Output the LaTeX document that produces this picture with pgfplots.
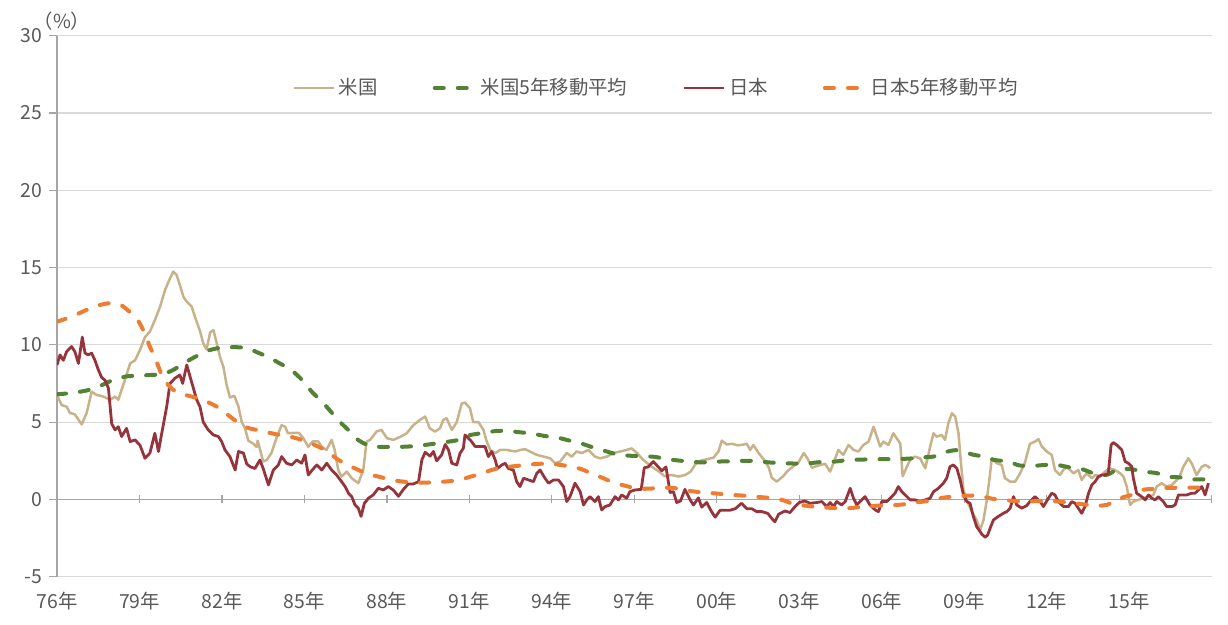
\documentclass[border=0pt]{standalone}
\usepackage{pgfplots}
\pgfplotsset{compat=1.18}
\usepackage{pgfplotstable}
\usepackage{fontspec}
\setmainfont{Noto Sans CJK JP}
\usetikzlibrary{calc}
\definecolor{ustan}{RGB}{200,178,138}
\definecolor{usma}{RGB}{84,130,53}
\definecolor{jpred}{RGB}{150,52,60}
\definecolor{jpma}{RGB}{237,125,49}
\definecolor{txt}{RGB}{89,89,89}
\definecolor{gridc}{RGB}{217,217,217}
\definecolor{axc}{RGB}{166,166,166}
\begin{document}
\pgfplotstableread{
x y
1976.00 6.76
1976.17 6.1
1976.35 6.0
1976.47 5.6
1976.65 5.5
1976.90 4.85
1977.08 5.6
1977.26 6.97
1977.44 6.76
1977.69 6.65
1977.93 6.45
1978.11 6.65
1978.23 6.45
1978.47 7.73
1978.66 8.8
1978.84 9.0
1979.02 9.67
1979.20 10.5
1979.38 10.86
1979.56 11.6
1979.75 12.47
1979.93 13.55
1980.11 14.3
1980.23 14.74
1980.35 14.52
1980.47 13.87
1980.60 13.1
1980.72 12.8
1980.90 12.47
1981.02 11.8
1981.20 10.9
1981.32 10.1
1981.44 9.7
1981.57 10.8
1981.69 10.96
1981.81 10.1
1981.93 9.2
1982.05 8.6
1982.17 7.4
1982.29 6.6
1982.45 6.7
1982.60 6.0
1982.72 5.0
1982.84 4.6
1982.96 3.8
1983.14 3.6
1983.26 3.4
1983.30 3.8
1983.50 2.45
1983.63 2.55
1983.80 3.0
1984.00 4.06
1984.17 4.8
1984.30 4.7
1984.40 4.28
1984.60 4.3
1984.80 4.3
1984.96 3.96
1985.14 3.4
1985.30 3.75
1985.50 3.75
1985.63 3.4
1985.80 3.2
1985.99 3.85
1986.10 3.2
1986.23 1.9
1986.35 1.48
1986.54 1.8
1986.72 1.37
1986.96 1.05
1987.14 1.9
1987.26 3.74
1987.39 3.85
1987.63 4.4
1987.80 4.5
1988.00 3.96
1988.23 3.85
1988.50 4.06
1988.72 4.28
1988.96 4.8
1989.20 5.14
1989.39 5.36
1989.56 4.6
1989.75 4.39
1989.93 4.6
1990.05 5.14
1990.17 5.25
1990.36 4.5
1990.54 5.0
1990.72 6.2
1990.84 6.26
1991.02 5.9
1991.14 5.0
1991.33 5.0
1991.51 4.5
1991.63 3.74
1991.76 3.2
1991.94 2.99
1992.12 3.2
1992.36 3.2
1992.67 3.1
1992.85 3.2
1993.03 3.25
1993.20 3.1
1993.45 2.88
1993.70 2.77
1993.94 2.66
1994.12 2.34
1994.30 2.45
1994.54 3.0
1994.72 2.77
1994.90 3.1
1995.09 3.0
1995.33 3.2
1995.57 2.77
1995.75 2.66
1996.00 2.77
1996.24 3.0
1996.48 3.1
1996.72 3.2
1996.90 3.3
1997.10 3.0
1997.30 2.6
1997.50 2.3
1997.63 2.12
1997.90 1.8
1998.10 1.5
1998.36 1.58
1998.60 1.48
1998.85 1.58
1999.05 1.8
1999.21 2.25
1999.40 2.5
1999.64 2.6
1999.88 2.7
2000.06 3.1
2000.18 3.8
2000.36 3.55
2000.55 3.6
2000.75 3.5
2000.97 3.55
2001.09 3.6
2001.21 3.2
2001.33 3.52
2001.52 3.0
2001.70 2.6
2001.88 2.1
2002.00 1.4
2002.18 1.15
2002.40 1.48
2002.58 1.85
2002.75 2.1
2002.97 2.4
2003.16 3.0
2003.30 2.65
2003.46 2.05
2003.70 2.2
2003.94 2.3
2004.12 1.8
2004.24 2.34
2004.42 3.2
2004.60 2.88
2004.79 3.52
2004.97 3.2
2005.15 3.1
2005.33 3.52
2005.52 3.74
2005.70 4.7
2005.82 4.06
2005.94 3.42
2006.06 3.74
2006.24 3.52
2006.42 4.28
2006.54 3.96
2006.67 3.63
2006.76 1.5
2006.91 2.1
2007.03 2.55
2007.21 2.77
2007.39 2.66
2007.58 2.01
2007.76 3.42
2007.88 4.28
2008.00 4.06
2008.18 4.17
2008.30 3.85
2008.42 4.92
2008.55 5.57
2008.67 5.36
2008.79 4.28
2008.88 2.34
2008.97 0.61
2009.09 -0.03
2009.27 -0.79
2009.45 -1.33
2009.58 -1.97
2009.70 -1.33
2009.82 -0.03
2009.94 1.69
2010.00 2.66
2010.18 2.34
2010.36 2.23
2010.48 1.37
2010.67 1.15
2010.85 1.15
2011.03 1.69
2011.20 2.34
2011.39 3.6
2011.57 3.74
2011.70 3.9
2011.82 3.42
2012.00 3.1
2012.18 2.88
2012.30 1.9
2012.48 1.58
2012.60 1.9
2012.73 2.12
2012.85 1.9
2012.97 1.69
2013.15 1.9
2013.27 1.26
2013.45 1.69
2013.64 1.37
2013.76 1.58
2013.94 1.48
2014.12 1.8
2014.30 2.01
2014.48 1.9
2014.67 1.69
2014.79 1.48
2014.91 0.83
2015.03 -0.36
2015.15 -0.14
2015.33 -0.03
2015.52 0.08
2015.70 0.18
2015.88 0.29
2016.00 0.83
2016.18 1.05
2016.36 0.83
2016.55 0.94
2016.73 1.26
2016.85 1.58
2016.97 2.12
2017.15 2.66
2017.27 2.34
2017.45 1.58
2017.64 2.12
2017.76 2.23
2017.88 2.12
2017.94 2.01
}\usdata
\pgfplotstableread{
x y
1976.0 6.8
1976.6 6.9
1977.2 7.1
1977.7 7.45
1978.0 7.7
1978.5 7.95
1978.9 8.0
1979.4 8.05
1979.8 8.1
1980.2 8.35
1980.6 8.8
1981.0 9.2
1981.45 9.6
1981.9 9.8
1982.3 9.85
1982.9 9.8
1983.3 9.5
1983.7 9.2
1984.1 8.8
1984.5 8.4
1984.9 7.75
1985.3 6.9
1985.6 6.4
1986.0 5.6
1986.3 5.0
1986.65 4.4
1986.95 3.85
1987.4 3.45
1987.9 3.4
1988.5 3.4
1989.0 3.45
1989.5 3.55
1990.1 3.7
1990.6 3.85
1991.0 4.15
1991.5 4.3
1992.0 4.43
1992.4 4.43
1992.8 4.35
1993.3 4.25
1993.75 4.1
1994.2 4.0
1994.65 3.8
1995.1 3.6
1995.6 3.3
1996.0 3.1
1996.4 2.9
1996.9 2.82
1997.3 2.8
1997.75 2.75
1998.2 2.6
1998.7 2.5
1999.1 2.42
1999.6 2.4
2000.1 2.45
2000.55 2.47
2001.0 2.5
2001.5 2.48
2001.85 2.4
2002.35 2.35
2002.85 2.32
2003.3 2.33
2003.8 2.42
2004.3 2.45
2004.75 2.55
2005.2 2.57
2005.65 2.6
2006.1 2.6
2006.6 2.62
2007.0 2.64
2007.45 2.72
2007.9 2.78
2008.4 3.1
2008.8 3.18
2009.3 2.9
2009.7 2.78
2010.1 2.55
2010.6 2.45
2011.0 2.2
2011.5 2.17
2011.95 2.23
2012.4 2.22
2012.9 2.05
2013.3 1.95
2013.8 1.62
2014.2 1.6
2014.6 1.95
2015.1 1.95
2015.5 1.8
2016.0 1.7
2016.4 1.47
2016.9 1.42
2017.3 1.3
2017.9 1.3
}\usmadata
\pgfplotstableread{
x y
1976.00 8.7
1976.11 9.35
1976.23 9.0
1976.35 9.56
1976.53 9.89
1976.65 9.56
1976.78 8.8
1976.92 10.5
1977.02 9.46
1977.14 9.35
1977.26 9.46
1977.38 9.0
1977.50 8.4
1977.62 7.9
1977.75 7.7
1977.87 7.2
1977.99 4.9
1978.11 4.5
1978.23 4.7
1978.35 4.07
1978.53 4.6
1978.66 3.74
1978.84 3.85
1979.02 3.5
1979.20 2.66
1979.38 3.0
1979.56 4.28
1979.69 3.1
1979.81 4.28
1979.99 6.0
1980.11 7.5
1980.29 7.84
1980.47 8.05
1980.57 7.5
1980.72 8.7
1980.84 7.94
1980.96 7.2
1981.08 6.44
1981.20 6.0
1981.32 5.0
1981.50 4.5
1981.69 4.17
1981.87 4.07
1981.99 3.74
1982.11 3.2
1982.29 2.77
1982.48 1.9
1982.60 3.1
1982.78 3.0
1982.90 2.3
1983.02 2.12
1983.20 2.0
1983.38 2.55
1983.50 2.0
1983.69 0.94
1983.87 1.9
1984.05 2.23
1984.17 2.77
1984.35 2.34
1984.54 2.23
1984.72 2.55
1984.90 2.34
1985.02 2.88
1985.14 1.58
1985.33 2.0
1985.45 2.23
1985.63 1.9
1985.81 2.34
1985.99 1.9
1986.17 1.58
1986.35 1.15
1986.48 0.83
1986.60 0.4
1986.72 0.18
1986.84 -0.36
1986.96 -0.57
1987.06 -1.1
1987.18 -0.25
1987.33 0.08
1987.50 0.29
1987.69 0.72
1987.87 0.61
1988.05 0.83
1988.23 0.61
1988.42 0.2
1988.60 0.65
1988.78 1.0
1988.96 1.0
1989.15 1.15
1989.27 2.55
1989.39 3.05
1989.57 2.8
1989.69 3.1
1989.81 2.5
1989.99 2.88
1990.12 3.55
1990.24 3.2
1990.36 2.34
1990.54 2.23
1990.66 2.99
1990.78 3.31
1990.84 4.17
1990.96 3.96
1991.08 3.74
1991.21 3.42
1991.39 3.42
1991.57 3.42
1991.69 2.77
1991.81 3.1
1991.94 2.55
1992.02 2.0
1992.18 2.23
1992.30 2.34
1992.42 2.0
1992.60 1.9
1992.72 1.15
1992.84 0.83
1992.97 1.37
1993.15 1.26
1993.33 1.15
1993.45 1.69
1993.57 1.9
1993.75 1.37
1993.88 1.05
1994.06 1.26
1994.24 1.26
1994.42 0.83
1994.54 -0.14
1994.66 0.18
1994.84 1.05
1995.03 0.5
1995.15 -0.36
1995.27 -0.03
1995.39 0.18
1995.57 -0.14
1995.69 0.18
1995.81 -0.68
1995.93 -0.47
1996.11 -0.36
1996.30 0.18
1996.42 -0.03
1996.54 0.29
1996.72 0.08
1996.84 0.5
1997.02 0.61
1997.25 0.65
1997.36 2.05
1997.50 2.1
1997.69 2.45
1997.82 2.2
1998.00 1.85
1998.15 2.1
1998.30 0.45
1998.42 0.5
1998.54 -0.2
1998.68 -0.1
1998.84 0.65
1999.02 0.0
1999.15 -0.36
1999.33 0.1
1999.45 -0.5
1999.63 -0.2
1999.81 -0.8
1999.94 -1.15
2000.12 -0.7
2000.30 -0.7
2000.48 -0.7
2000.67 -0.6
2000.90 -0.25
2001.09 -0.6
2001.27 -0.6
2001.45 -0.79
2001.64 -0.79
2001.85 -0.9
2002.03 -1.3
2002.11 -1.45
2002.25 -0.95
2002.48 -0.75
2002.66 -0.85
2002.85 -0.45
2003.00 -0.2
2003.20 -0.1
2003.39 -0.25
2003.64 -0.2
2003.82 -0.14
2004.00 -0.47
2004.12 -0.2
2004.24 -0.46
2004.36 -0.14
2004.54 -0.36
2004.67 -0.14
2004.85 0.72
2004.97 0.08
2005.09 -0.36
2005.27 -0.03
2005.39 0.18
2005.57 -0.36
2005.76 -0.68
2005.88 -0.79
2006.00 -0.14
2006.18 -0.14
2006.36 0.18
2006.48 0.4
2006.60 0.83
2006.73 0.5
2006.85 0.29
2007.03 -0.03
2007.21 -0.03
2007.39 -0.14
2007.58 -0.03
2007.76 0.08
2007.88 0.5
2008.06 0.72
2008.24 1.05
2008.36 1.37
2008.48 2.12
2008.60 2.23
2008.73 2.01
2008.85 1.26
2008.97 0.29
2009.09 -0.14
2009.21 -0.25
2009.33 -1.1
2009.45 -1.76
2009.64 -2.25
2009.76 -2.45
2009.85 -2.3
2009.94 -1.87
2010.06 -1.33
2010.24 -1.1
2010.42 -0.9
2010.55 -0.79
2010.67 -0.57
2010.79 0.18
2010.91 -0.36
2011.09 -0.57
2011.27 -0.4
2011.39 -0.14
2011.57 0.18
2011.76 -0.14
2011.88 -0.46
2012.06 0.08
2012.18 0.4
2012.30 0.29
2012.42 -0.14
2012.61 -0.46
2012.79 -0.46
2012.91 -0.14
2013.03 -0.25
2013.15 -0.57
2013.27 -0.9
2013.39 -0.46
2013.52 0.4
2013.64 0.94
2013.76 1.15
2013.88 1.48
2014.00 1.58
2014.12 1.58
2014.24 1.69
2014.34 3.52
2014.42 3.68
2014.55 3.52
2014.73 3.2
2014.85 2.45
2014.97 2.34
2015.09 2.12
2015.15 1.37
2015.27 0.4
2015.45 0.18
2015.58 -0.03
2015.70 0.29
2015.82 0.08
2015.94 -0.03
2016.06 0.18
2016.24 -0.14
2016.36 -0.46
2016.55 -0.46
2016.67 -0.36
2016.79 0.29
2016.91 0.29
2017.09 0.29
2017.27 0.4
2017.39 0.4
2017.52 0.61
2017.64 0.83
2017.76 0.29
2017.88 1.05
}\jpdata
\pgfplotstableread{
x y
1976.0 11.5
1976.5 11.8
1977.0 12.2
1977.5 12.55
1977.95 12.7
1978.3 12.6
1978.6 12.2
1978.9 11.7
1979.15 10.9
1979.35 10.0
1979.6 9.0
1979.85 7.9
1980.1 7.3
1980.4 6.9
1980.8 6.7
1981.2 6.5
1981.6 6.2
1981.9 5.9
1982.3 5.35
1982.65 4.9
1983.0 4.6
1983.4 4.45
1984.0 4.2
1984.5 4.05
1985.0 3.8
1985.4 3.5
1985.8 3.15
1986.2 2.6
1986.6 2.2
1986.85 2.0
1987.3 1.65
1987.75 1.45
1988.2 1.25
1988.6 1.15
1989.1 1.08
1989.6 1.1
1990.1 1.15
1990.6 1.25
1991.0 1.45
1991.4 1.65
1991.9 1.95
1992.4 2.1
1992.9 2.2
1993.5 2.3
1994.0 2.3
1994.6 2.15
1995.0 2.0
1995.5 1.65
1995.9 1.35
1996.3 1.05
1996.7 0.87
1997.1 0.7
1997.6 0.7
1998.0 0.76
1998.5 0.72
1999.0 0.55
1999.5 0.45
2000.0 0.38
2000.5 0.3
2001.0 0.24
2001.5 0.16
2002.0 0.08
2002.4 -0.05
2002.8 -0.3
2003.2 -0.4
2003.7 -0.5
2004.2 -0.55
2004.7 -0.58
2005.2 -0.5
2005.7 -0.42
2006.2 -0.38
2006.7 -0.34
2007.2 -0.2
2007.7 -0.1
2008.2 0.1
2008.7 0.2
2009.2 0.25
2009.6 0.22
2010.0 0.05
2010.5 -0.05
2011.0 -0.12
2011.5 -0.12
2012.0 -0.1
2012.5 -0.15
2013.0 -0.25
2013.5 -0.35
2014.0 -0.4
2014.2 -0.35
2014.5 -0.05
2014.8 0.15
2015.1 0.3
2015.5 0.62
2015.9 0.68
2016.4 0.75
2016.9 0.75
2017.4 0.76
2017.9 0.76
}\jpmadata
\begin{tikzpicture}
\begin{axis}[
  scale only axis,
  width=577.35pt, height=270.5pt,
  xmin=1976, xmax=2018,
  ymin=-5, ymax=30,
  axis x line=middle,
  axis y line=left,
  axis line style={-, draw=axc, line width=0.6pt},
  every inner x axis line/.append style={-},
  every outer y axis line/.append style={-},
  x axis line style={-},
  y axis line style={-},
  hide obscured x ticks=false,
  hide obscured y ticks=false,
  xtick={1976,1979,...,2018},
  xticklabels={76年,79年,82年,85年,88年,91年,94年,97年,00年,03年,06年,09年,12年,15年,},
  ytick={-5,0,...,30},
  yticklabels={-5,0,5,10,15,20,25,30},
  xtick align=center,
  ytick align=outside,
  major tick length=4pt,
  tick style={draw=axc, line width=0.6pt},
  ymajorgrids,
  grid style={draw=gridc, line width=0.6pt},
  tick label style={font=\fontsize{9.7pt}{11pt}\selectfont, text=txt},
  xticklabel style={yshift=-41pt},
  legend columns=4,
  legend style={draw=none, fill=none, at={(0.5196,0.9035)}, anchor=center,
    font=\fontsize{9.7pt}{11pt}\selectfont, text=txt,
    /tikz/every even column/.append style={column sep=25.5pt}},
  legend image code/.code={\draw[#1] (0pt,0pt) -- (20pt,0pt);},
]
\addplot[ustan, line width=1.25pt, line join=round] table[x=x,y=y] {\usdata};
\addlegendentry{米国}
\addplot[usma, line width=2pt, line cap=round, dash pattern=on 4.5pt off 7pt, smooth] table[x=x,y=y] {\usmadata};
\addlegendentry{米国5年移動平均}
\addplot[jpred, line width=1.4pt, line join=round] table[x=x,y=y] {\jpdata};
\addlegendentry{日本}
\addplot[jpma, line width=2pt, line cap=round, dash pattern=on 4.5pt off 7pt, smooth] table[x=x,y=y] {\jpmadata};
\addlegendentry{日本5年移動平均}
\end{axis}
\node[anchor=center, font=\fontsize{9.7pt}{11pt}\selectfont, text=txt] at ($(current axis.north west)+(2.5pt,7.5pt)$) {（\%）};
\pgfresetboundingbox
\path[use as bounding box] ($(current axis.south west)+(-28.5pt,-24.1pt)$) rectangle ($(current axis.north east)+(8.15pt,17.85pt)$);
\end{tikzpicture}
\end{document}
